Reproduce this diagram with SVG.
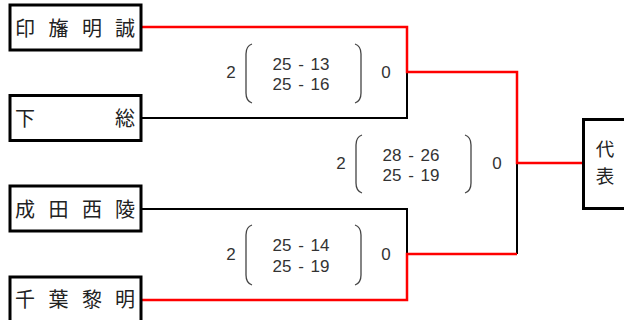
<svg xmlns="http://www.w3.org/2000/svg" width="624" height="320" viewBox="0 0 624 320">
<style>
.box{fill:#fff;stroke:#000;stroke-width:3}
.name{font-family:"Noto Sans CJK JP","Noto Sans CJK SC",sans-serif;font-size:20px;fill:#222;text-anchor:middle}
.rep{font-size:18.5px}
.num{font-family:"Liberation Sans",Arial,sans-serif;font-size:17px;fill:#333;text-anchor:middle}
.sc{word-spacing:2px}
.par{fill:none;stroke:#444;stroke-width:1.3}
.win{fill:none;stroke:#ff0000;stroke-width:2.5}
.lose{fill:none;stroke:#000;stroke-width:2}
</style>
<rect width="624" height="320" fill="#fff"/>
<g id="connectors">
<path class="lose" d="M141 118 H407 V72"/>
<path class="lose" d="M141 209 H407 V254"/>
<path class="lose" d="M517 163 V254"/>
<path class="win" d="M141 27 H407 V72 H517 V163 H583"/>
<path class="win" d="M141 300 H407 V254 H517"/>
</g>
<g id="node-inba">
<rect class="box" x="10" y="5" width="131" height="45"/>
<text class="name" x="25 58.5 92 125" y="36">印旛明誠</text>
</g>
<g id="node-shimofusa">
<rect class="box" x="10" y="95.5" width="131" height="45"/>
<text class="name" x="25 125" y="125.5">下総</text>
</g>
<g id="node-naritaseiryo">
<rect class="box" x="10" y="186" width="131" height="45"/>
<text class="name" x="25 58.5 92 125" y="216.5">成田西陵</text>
</g>
<g id="node-chibareimei">
<rect class="box" x="10" y="277" width="131" height="46"/>
<text class="name" x="25 58.5 92 125" y="306.5">千葉黎明</text>
</g>
<g id="node-daihyo">
<rect class="box" x="583.5" y="119.5" width="50" height="89"/>
<text class="name rep" x="605" y="155.5">代</text>
<text class="name rep" x="605" y="183">表</text>
</g>
<g id="score-1">
<text class="num" x="231" y="78">2</text>
<path class="par" d="M252 44 Q246 46 246 54 L246 93 Q246 101 252 103"/>
<text class="num sc" x="301" y="70">25 - 13</text>
<text class="num sc" x="301" y="90">25 - 16</text>
<path class="par" d="M355 44 Q361 46 361 54 L361 93 Q361 101 355 103"/>
<text class="num" x="386" y="78">0</text>
</g>
<g id="score-2">
<text class="num" x="341" y="169">2</text>
<path class="par" d="M362 135 Q356 137 356 145 L356 183 Q356 191 362 193"/>
<text class="num sc" x="411" y="161">28 - 26</text>
<text class="num sc" x="411" y="181">25 - 19</text>
<path class="par" d="M465 135 Q471 137 471 145 L471 183 Q471 191 465 193"/>
<text class="num" x="497" y="169">0</text>
</g>
<g id="score-3">
<text class="num" x="231" y="260">2</text>
<path class="par" d="M252 225 Q246 227 246 235 L246 275 Q246 283 252 285"/>
<text class="num sc" x="301" y="251">25 - 14</text>
<text class="num sc" x="301" y="272">25 - 19</text>
<path class="par" d="M355 225 Q361 227 361 235 L361 275 Q361 283 355 285"/>
<text class="num" x="386" y="260">0</text>
</g>
</svg>
